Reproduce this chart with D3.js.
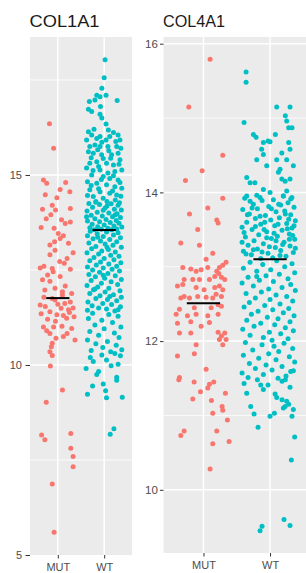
<!DOCTYPE html>
<html><head><meta charset="utf-8">
<script src="https://cdn.jsdelivr.net/npm/d3@7"></script>
<style>body{margin:0;background:#fff}svg{display:block}text{font-family:"Liberation Sans",Arial,sans-serif}</style>
</head><body><svg id="c" width="306" height="573"></svg>
<script>
// ---- data ----
const genes = ["COL1A1", "COL4A1"];
const groups = ["MUT", "WT"];
const yTicks1 = [5, 10, 15];
const yMinor1 = [7.5, 12.5, 17.5];
const yTicks2 = [10, 12, 14, 16];
const yMinor2 = [11, 13, 15];
const yDomain1 = [5.0, 18.63];
const yDomain2 = [9.15, 16.09];
const medians1 = [11.76, 13.55];
const medians2 = [12.51, 13.10];

// [jitter (category units), expression value]
const mut1 = [
[-0.18,16.35],[-0.09,15.70],
[-0.31,14.87],[-0.24,14.78],[0.17,14.80],[0.26,14.56],[-0.27,14.48],[-0.02,14.40],[0.05,14.62],
[-0.12,14.20],[0.27,14.12],[-0.33,14.10],[-0.05,14.08],[-0.25,13.85],[0.08,13.82],[0.27,13.76],[0.16,13.72],[-0.15,13.95],
[-0.36,13.62],[-0.08,13.60],[0.01,13.46],[0.05,13.33],[-0.07,13.24],[0.23,13.20],[-0.17,13.16],[0.12,13.40],
[-0.06,13.02],[-0.17,12.90],[0.20,12.80],[0.04,12.72],[0.14,12.68],[-0.30,12.60],[0.27,12.52],[-0.12,12.54],[-0.38,12.55],[0.33,12.95],
[-0.22,12.37],[0.05,12.33],[-0.33,12.24],[-0.17,12.20],[0.16,12.08],[-0.06,12.02],[-0.28,11.97],[0.10,11.93],[0.30,11.88],[-0.10,12.45],
[-0.38,11.58],[-0.27,11.54],[-0.06,11.71],[0.10,11.84],[0.27,11.66],[0.07,11.49],[0.23,11.45],[-0.17,11.40],[-0.36,11.35],[-0.02,11.32],[0.35,11.27],[0.19,11.23],[-0.22,11.20],[0.00,11.60],[-0.12,11.75],[0.15,11.62],[0.33,11.50],[-0.30,11.78],[0.25,11.38],[-0.05,11.15],[0.12,11.30],
[-0.31,11.00],[-0.09,11.00],[0.09,11.02],[0.30,10.96],[-0.17,10.83],[0.20,10.83],[0.37,10.66],[-0.04,10.70],[-0.24,10.90],[0.12,10.75],
[-0.12,10.57],[-0.14,10.48],[-0.17,10.35],[-0.12,10.25],[-0.16,9.97],
[0.10,9.34],[-0.25,9.02],[-0.35,8.16],[-0.28,8.03],[0.28,8.20],[0.28,7.81],[0.33,7.59],[0.33,7.32],[-0.12,6.87],[-0.08,5.60]
];
const wt1 = [
[0.02,18.03],[0.00,17.56],[-0.05,17.28],[-0.16,17.10],[-0.09,17.06],[0.04,17.10],[-0.20,16.97],[-0.32,16.93],[0.28,16.96],[-0.34,16.73],[-0.27,16.67],[-0.08,16.80],[-0.09,16.60],[-0.05,16.50],[0.04,16.34],
[-0.34,16.14],[-0.27,16.05],[-0.38,15.92],[-0.16,15.96],[-0.09,16.01],[0.04,15.92],[0.12,16.01],[0.20,16.12],[0.30,16.05],[0.34,15.92],
[-0.31,15.75],[-0.20,15.79],[-0.09,15.75],[0.08,15.75],[0.27,15.75],[-0.34,15.61],[-0.235,15.57],[-0.055,15.53],[0.16,15.53],[0.30,15.57],
[0.34,15.40],[-0.31,15.31],[-0.16,15.35],[0.05,15.31],[0.20,15.26],[-0.38,15.18],[-0.09,15.13],[0.23,15.09],[0.38,15.13],
[-0.27,15.00],[-0.02,14.96],[0.12,14.91],[0.30,14.87],[-0.36,14.82],[-0.16,14.78],[0.05,14.74],[0.23,14.69],[0.38,14.65],[-0.31,14.61],[-0.09,14.56],[0.12,14.52],[0.27,14.47],[-0.235,14.43],[-0.02,14.39],
[-0.22,16.20],[0.09,16.18],[-0.05,15.86],[0.25,15.88],[-0.14,15.66],[0.10,15.64],[0.36,15.70],[-0.28,15.45],[-0.02,15.43],[0.14,15.44],[-0.12,15.22],[0.32,15.28],[-0.24,15.12],[0.08,15.05],[-0.06,14.88],[0.20,14.98],[-0.28,14.72],[0.34,14.80],[-0.12,14.64],[0.18,14.58],[0.36,14.44],[-0.36,14.46],[0.06,14.30],[0.24,14.34],[-0.18,14.28],
[-0.33,14.25],[-0.10,14.22],[0.15,14.24],[0.30,14.20],[-0.25,14.15],[0.02,14.13],[0.22,14.10],[0.37,14.08],[-0.37,14.05],[-0.15,14.02],[0.10,14.00],[0.28,13.98],[-0.28,13.94],[-0.04,13.92],[0.18,13.90],[0.35,13.88],[-0.20,13.85],[0.04,13.83],[0.26,13.80],[-0.36,13.79],[-0.10,13.77],[0.13,13.75],[0.32,13.73],[-0.26,13.70],[0.00,13.68],[0.21,13.66],[-0.14,13.64],[0.38,13.63],[-0.31,13.61],[0.08,13.60],[0.27,13.58],[-0.06,13.57],[-0.22,13.56],[0.16,13.56],[-0.38,13.90],[0.33,14.27],[-0.18,14.30],[0.06,14.18],[-0.02,14.07],[0.24,13.95],
[-0.30,13.52],[0.05,13.50],[0.30,13.48],[-0.15,13.45],[0.20,13.42],[-0.36,13.40],[-0.02,13.38],[0.35,13.35],[-0.24,13.32],[0.12,13.30],[-0.08,13.26],[0.27,13.24],[-0.33,13.21],[0.02,13.18],[0.19,13.15],[-0.18,13.12],[0.37,13.10],[-0.27,13.06],[0.09,13.04],[-0.05,13.00],[0.24,12.97],[-0.37,12.95],[-0.12,12.92],[0.14,12.89],[0.32,12.86],[-0.22,12.83],[0.00,12.80],[0.21,12.77],[-0.31,12.74],[-0.08,12.71],[0.36,12.69],[0.10,12.66],[-0.17,12.63],[0.27,12.60],[-0.36,12.58],[-0.02,12.55],[0.17,12.52],[-0.25,12.50],[0.06,13.10],[-0.14,13.36],
[0.33,12.47],[-0.10,12.44],[0.08,12.41],[-0.33,12.38],[0.24,12.35],[-0.19,12.32],[0.01,12.28],[0.37,12.25],[-0.28,12.22],[0.15,12.19],[-0.06,12.15],[0.29,12.12],[-0.37,12.09],[-0.14,12.05],[0.10,12.02],[-0.23,11.98],[0.34,11.95],[0.02,11.92],[-0.31,11.88],[0.20,11.85],[-0.09,11.82],[0.37,11.78],[-0.18,11.75],[0.07,11.72],[0.27,11.69],[-0.35,11.66],[-0.03,11.62],[0.16,11.59],[-0.26,11.56],[0.35,11.53],[-0.12,11.50],[0.05,11.47],[-0.36,11.44],[0.23,11.42],[-0.20,12.00],[0.12,11.80],[-0.02,12.36],[0.30,11.45],
[-0.25,11.36],[0.10,11.33],[0.30,11.28],[-0.34,11.22],[-0.05,11.18],[0.18,11.12],[-0.20,11.05],[0.36,11.00],[0.00,10.95],[-0.31,10.88],[0.22,10.84],[-0.12,10.78],[0.32,10.72],[-0.36,10.66],[0.07,10.62],[-0.18,10.56],[0.26,10.52],[-0.03,10.46],[0.38,10.40],[-0.28,10.38],[0.14,10.35],[0.23,10.30],
[-0.39,9.91],[-0.12,9.83],[0.27,9.68],[0.05,10.13],[0.35,10.24],[-0.235,10.09],[-0.30,10.20],[0.15,9.98],[-0.05,10.26],[0.30,10.02],[-0.16,9.75],
[-0.25,9.45],[-0.02,9.50],[0.27,9.60],[-0.36,9.23],[0.03,9.32],[0.05,9.14],[0.39,9.15],[0.21,8.32],[0.13,8.18]
];
const mut2 = [
[0.10,15.79],[-0.22,15.15],[0.29,14.50],[-0.02,14.29],[-0.27,14.16],[0.29,13.92],
[-0.21,13.71],[0.065,13.79],[0.20,13.63],[0.22,13.59],[-0.086,13.50],[-0.34,13.32],[-0.06,13.29],[0.14,13.18],[0.04,13.10],
[0.34,13.06],[0.29,13.02],[0.24,12.99],[0.20,12.94],[0.23,12.91],[0.17,12.87],[0.27,12.86],[0.32,12.83],[-0.31,12.99],[-0.19,12.97],[-0.29,12.83],[-0.11,12.94],[-0.035,12.96],[0.065,12.99],[-0.06,12.83],[0.09,12.83],[-0.16,12.83],
[-0.39,12.74],[-0.31,12.76],[-0.11,12.72],[0.01,12.69],[0.17,12.72],[0.24,12.74],[0.29,12.69],
[-0.34,12.58],[-0.29,12.60],[-0.21,12.58],[-0.086,12.60],[0.04,12.59],[0.14,12.58],[0.19,12.63],[0.27,12.60],
[-0.36,12.43],[-0.137,12.45],[0.116,12.45],[0.22,12.49],[0.27,12.47],
[-0.41,12.36],[-0.24,12.34],[-0.11,12.36],[0.065,12.34],[0.22,12.36],
[-0.39,12.24],[-0.19,12.26],[-0.035,12.20],[0.09,12.25],[-0.36,12.11],[-0.19,12.11],[0.22,12.12],[0.27,12.07],[0.32,12.11],[0.24,12.02],[0.29,11.95],[0.34,12.02],[-0.11,11.95],[-0.39,11.80],[-0.137,11.83],[0.04,11.62],[-0.36,11.51],
[-0.37,11.48],[-0.14,11.45],[0.09,11.42],[0.155,11.45],[0.065,11.37],[-0.045,11.32],[-0.16,11.22],[0.12,11.20],[0.33,11.30],[0.14,11.03],[0.28,11.12],[0.29,11.07],[0.36,10.94],[0.20,10.79],[-0.29,10.79],[-0.34,10.73],[0.14,10.62],[0.385,10.65],[0.10,10.28]
];
const wt2 = [
[-0.36,15.62],[-0.36,15.48],[0.10,15.15],[0.30,15.15],[0.23,15.03],[0.25,14.96],[0.28,14.87],[0.33,14.87],[-0.39,14.94],[-0.25,14.78],[-0.21,14.74],[0.08,14.78],[-0.10,14.67],[-0.03,14.69],[0.00,14.68],[0.28,14.67],
[-0.126,14.58],[-0.10,14.51],[0.177,14.53],[0.30,14.58],[0.25,14.44],[0.35,14.36],[-0.20,14.44],[0.10,14.44],[-0.05,14.36],[0.15,14.31],[-0.35,14.20],[-0.30,14.13],[-0.227,14.13],[-0.10,14.04],[0.0,14.00],[0.126,14.27],[0.177,14.18],[0.227,14.15],[0.30,14.18],[0.25,14.02],[0.20,13.95],[0.328,13.93],[-0.35,13.95],[-0.15,13.93],
[-0.38,13.92],[-0.12,13.89],[0.05,13.90],[0.27,13.86],[-0.25,13.84],[0.16,13.83],[0.36,13.80],[-0.02,13.81],[-0.41,13.77],[-0.19,13.78],[0.09,13.74],[0.22,13.75],[-0.31,13.71],[0.31,13.70],[-0.07,13.69],[0.14,13.66],[-0.22,13.65],[0.38,13.62],[0.01,13.63],[-0.35,13.60],[0.25,13.58],[-0.14,13.57],[0.07,13.55],[-0.42,13.53],[0.33,13.52],[-0.27,13.50],[0.18,13.49],[-0.05,13.47],[0.29,13.44],[-0.17,13.43],[0.11,13.41],[-0.37,13.40],[0.02,13.38],[0.37,13.37],[-0.24,13.35],[0.21,13.33],[-0.10,13.31],[-0.33,13.29],[0.30,13.28],[0.08,13.26],[-0.19,13.24],[0.16,13.22],[-0.40,13.21],[0.35,13.19],[-0.03,13.18],[-0.28,13.16],[0.24,13.14],[0.04,13.12],[-0.14,13.11],[0.13,13.84],[-0.30,13.88],[0.20,13.95],[-0.08,13.60],[0.28,13.64],[-0.39,13.46],[0.09,13.35],[-0.22,13.54],[0.34,13.42],[-0.12,13.20],[0.19,13.30],[-0.34,13.70],[0.02,13.78],[-0.20,13.96],[0.38,13.25],[-0.05,13.39],[0.26,13.51],[-0.42,13.33],[0.12,13.57],[-0.27,13.79],[0.31,13.91],[-0.15,13.68],[0.06,13.45],[-0.36,13.17],[0.23,13.71],[-0.01,13.27],[0.36,13.55],[-0.25,13.23],[0.15,13.15],[-0.09,13.50],[0.29,13.37],
[0.10,13.08],[-0.30,13.06],[0.33,13.04],[-0.11,13.03],[0.22,13.00],[-0.40,12.98],[0.01,12.96],[-0.20,12.94],[0.37,12.92],[0.14,12.90],[-0.06,12.88],[-0.33,12.86],[0.27,12.84],[-0.16,12.82],[0.05,12.80],[-0.42,12.78],[0.31,12.76],[-0.25,12.74],[0.18,12.72],[-0.02,12.70],[0.38,12.68],[-0.13,12.66],[-0.36,12.64],[0.09,12.62],[0.25,12.60],[-0.22,12.58],[0.00,12.56],[0.34,12.54],[-0.31,12.52],[0.15,12.50],[-0.08,12.48],[-0.39,12.46],[0.28,12.44],[0.04,12.42],[-0.18,12.40],[0.20,12.38],[-0.28,12.36],[0.36,12.34],[-0.04,12.32],[0.12,12.30],[-0.35,12.28],[0.30,12.26],[-0.14,12.24],[0.07,12.22],[-0.24,12.20],[0.23,12.18],[-0.41,12.16],[0.35,12.14],[-0.01,12.12],[0.16,12.10],[-0.30,12.08],[-0.10,12.05],[0.27,12.03],[0.03,12.01],[-0.20,12.87],
[-0.37,11.98],[0.21,11.97],[-0.12,11.95],[0.06,11.93],[0.34,11.90],[-0.26,11.88],[0.13,11.86],[-0.02,11.83],[-0.40,11.81],[0.29,11.79],[-0.17,11.77],[0.09,11.75],[0.37,11.72],[-0.31,11.70],[-0.06,11.68],[0.18,11.66],[-0.22,11.63],[0.03,11.61],[0.31,11.59],[-0.42,11.57],[-0.10,11.55],[0.24,11.53],[-0.33,11.51],[0.12,11.50],[-0.19,11.48],[0.35,11.60],[-0.39,11.43],[-0.14,11.41],[-0.03,11.41],[0.18,11.46],[0.23,11.48],[0.076,11.29],[0.10,11.24],[0.18,11.21],[0.25,11.19],[0.28,11.15],[0.35,11.08],[0.20,11.10],[0.227,11.12],[-0.29,11.12],[-0.24,11.02],[0.00,10.99],[0.065,11.03],[0.33,10.99],[-0.10,11.35],[0.30,11.38],[-0.35,11.30],
[-0.18,10.84],[0.37,10.71],[0.32,10.40],[-0.15,9.45],[-0.12,9.51],[0.21,9.60],[0.30,9.52]
];

const colors = ["#F8766D", "#00BFC4"];

// ---- layout ----
const panels = [
  { title: genes[0], series: [mut1, wt1], medians: medians1, ticks: yTicks1, minor: yMinor1, domain: yDomain1,
    x0: 30, x1: 132, y0: 37, y1: 555, titleLen: 70, tickSize: 4.5, tickPad: 3.5, tickFont: 11 },
  { title: genes[1], series: [mut2, wt2], medians: medians2, ticks: yTicks2, minor: yMinor2, domain: yDomain2,
    x0: 163.5, x1: 310, y0: 37, y1: 553, titleLen: 62, tickSize: 3.5, tickPad: 2.2, tickFont: 11.5 }
];

const svg = d3.select("#c");
svg.append("rect").attr("width", 306).attr("height", 573).attr("fill", "#fff");

panels.forEach(p => {
  const x = d3.scalePoint().domain(groups).range([p.x0, p.x1]).padding(0.6);
  const step = x.step();
  const y = d3.scaleLinear().domain(p.domain).range([p.y1, p.y0]);
  const g = svg.append("g");

  g.append("rect").attr("x", p.x0).attr("y", p.y0).attr("width", p.x1 - p.x0).attr("height", p.y1 - p.y0).attr("fill", "#EBEBEB");
  g.selectAll(".minor").data(p.minor).join("line")
    .attr("x1", p.x0).attr("x2", p.x1).attr("y1", d => y(d)).attr("y2", d => y(d))
    .attr("stroke", "#fff").attr("stroke-width", 0.8);
  g.selectAll(".major").data(p.ticks.filter(t => t > p.domain[0] && t < p.domain[1])).join("line")
    .attr("x1", p.x0).attr("x2", p.x1).attr("y1", d => y(d)).attr("y2", d => y(d))
    .attr("stroke", "#fff").attr("stroke-width", 1.5);
  g.selectAll(".vmajor").data(groups).join("line")
    .attr("x1", d => x(d)).attr("x2", d => x(d)).attr("y1", p.y0).attr("y2", p.y1)
    .attr("stroke", "#fff").attr("stroke-width", 1.5);

  p.series.forEach((s, i) => {
    g.append("g").selectAll("circle").data(s).join("circle")
      .attr("cx", d => x(groups[i]) + d[0] * step)
      .attr("cy", d => y(d[1]))
      .attr("r", 2.5)
      .attr("fill", colors[i]);
  });

  g.selectAll(".med").data(p.medians).join("line")
    .attr("x1", (d, i) => x(groups[i]) - 0.25 * step)
    .attr("x2", (d, i) => x(groups[i]) + 0.25 * step)
    .attr("y1", d => y(d)).attr("y2", d => y(d))
    .attr("stroke", "#000").attr("stroke-width", 2);

  // y axis
  const ya = g.append("g").attr("transform", `translate(${p.x0},0)`)
    .call(d3.axisLeft(y).tickValues(p.ticks).tickFormat(d3.format("d")).tickSize(p.tickSize).tickPadding(p.tickPad));
  ya.select(".domain").remove();
  ya.selectAll("line").attr("stroke", "#333").attr("stroke-width", 1);
  ya.selectAll("text").attr("fill", "#4D4D4D").style("font-size", p.tickFont + "px");

  // x axis
  const xa = g.append("g").attr("transform", `translate(0,${p.y1})`)
    .call(d3.axisBottom(x).tickSize(3.5).tickPadding(2));
  xa.select(".domain").remove();
  xa.selectAll("line").attr("stroke", "#333");
  xa.selectAll("text").attr("fill", "#4D4D4D").style("font-size", "11px").attr("dy", "0.95em");

  // title
  g.append("text").attr("x", p.x0 - 0.5).attr("y", 27).text(p.title)
    .attr("fill", "#1A1A1A").style("font-size", "17px")
    .attr("textLength", p.titleLen).attr("lengthAdjust", "spacingAndGlyphs");
});
</script></body></html>
